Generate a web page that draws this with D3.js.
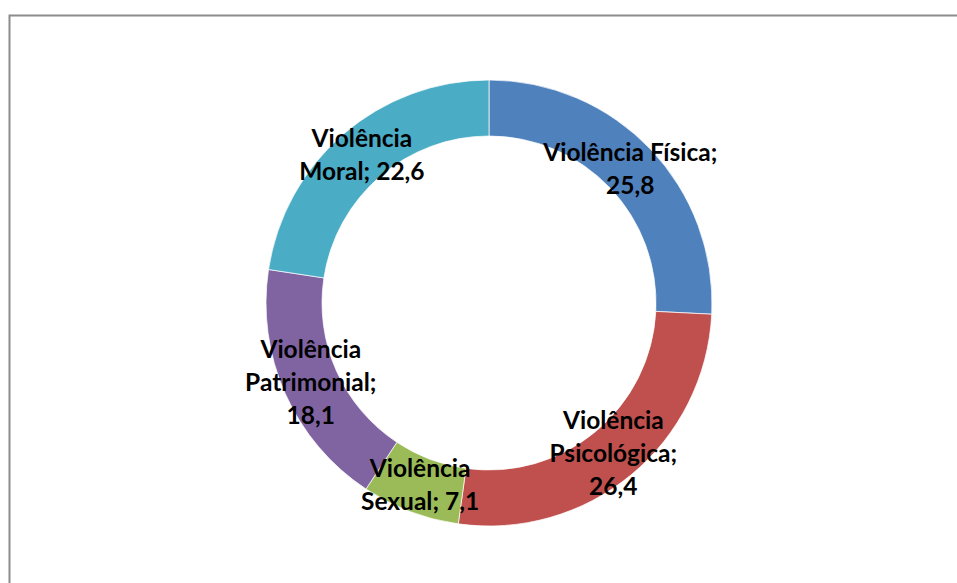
<!DOCTYPE html>
<html>
<head>
<meta charset="utf-8">
<script src="https://cdn.jsdelivr.net/npm/d3@7"></script>
<style>
  html, body { margin: 0; padding: 0; background: #fff; }
  svg { display: block; }
</style>
</head>
<body>
<svg id="chart" width="957" height="583"></svg>
<script>
// Tipos de violência e percentuais
const categories = ["Violência Física", "Violência Psicológica", "Violência Sexual", "Violência Patrimonial", "Violência Moral"];
const values = [25.8, 26.4, 7.1, 18.1, 22.6];
const valueLabels = ["25,8", "26,4", "7,1", "18,1", "22,6"];
// Quebras de linha dos rótulos
const labelLines = [
  ["Violência Física;", "25,8"],
  ["Violência", "Psicológica;", "26,4"],
  ["Violência", "Sexual; 7,1"],
  ["Violência", "Patrimonial;", "18,1"],
  ["Violência", "Moral; 22,6"]
];
const colors = ["#4F81BD", "#C0504D", "#9BBB59", "#8064A2", "#4BACC6"];

const svg = d3.select("#chart");

// Moldura da área do gráfico
svg.append("rect")
  .attr("x", 9.5).attr("y", 15.5)
  .attr("width", 1000).attr("height", 700)
  .attr("fill", "#fff")
  .attr("stroke", "#8c8c8c")
  .attr("stroke-width", 2);

const cx = 489, cy = 303;
const outerR = 223, innerR = 167;

const pie = d3.pie().sort(null).value(d => d.value);
const data = categories.map((c, i) => ({ name: c, value: values[i], lines: labelLines[i], color: colors[i] }));
const arcs = pie(data);
const arc = d3.arc().innerRadius(innerR).outerRadius(outerR);

const g = svg.append("g").attr("transform", `translate(${cx},${cy})`);

g.selectAll("path.slice")
  .data(arcs)
  .join("path")
  .attr("class", "slice")
  .attr("d", arc)
  .attr("fill", d => d.data.color)
  .attr("stroke", "rgba(255,255,255,0.7)")
  .attr("stroke-width", 1);

const lineH = 33;
const labels = g.selectAll("text.lbl")
  .data(arcs)
  .join("text")
  .attr("class", "lbl")
  .attr("text-anchor", "middle")
  .attr("font-family", "Lato, 'Open Sans', sans-serif")
  .attr("font-weight", "bold")
  .attr("font-size", 24.5)
  .attr("fill", "#000")
  .attr("transform", d => { const [x, y] = arc.centroid(d); return `translate(${x},${y})`; });

labels.each(function(d) {
  const n = d.data.lines.length;
  d3.select(this).selectAll("tspan")
    .data(d.data.lines)
    .join("tspan")
    .attr("x", 0)
    .attr("y", (t, i) => (i - (n - 1) / 2) * lineH + 8.5)
    .text(t => t);
});
</script>
</body>
</html>
